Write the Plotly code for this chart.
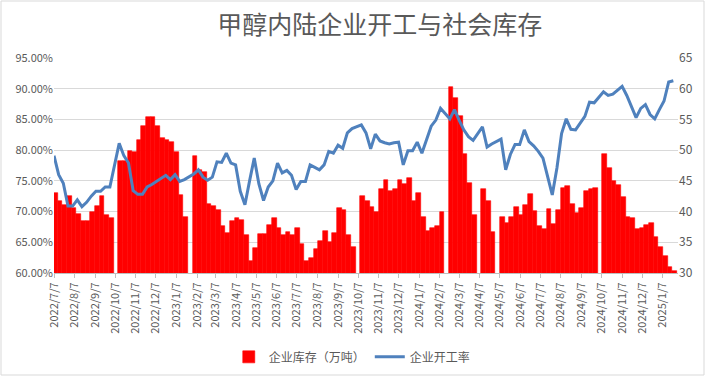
import pandas as pd
import plotly.graph_objects as go

# Weekly observations starting 2022-07-07 (None = week not reported)
start_date = "2022-07-07"
n_weeks = 134

inventory = [
    43.1, 41.8, 41.0, 42.5, 40.6, 39.6, 38.4, 38.4, 39.9, 40.9,
    42.6, 39.5, 39.0, None, 48.2, 48.2, 49.8, 49.7, 51.6, 53.9,
    55.4, 55.4, 54.0, 52.0, 51.6, 51.4, 49.7, 42.7, 39.1, None,
    49.1, 46.8, 46.5, 41.3, 40.9, 40.2, 37.7, 36.5, 38.5, 39.0,
    38.6, 36.2, 31.9, 34.1, 36.4, 36.3, 37.8, 38.9, 37.4, 36.2,
    36.7, 36.2, 37.4, 34.7, 32.0, 32.4, 33.9, 35.2, 36.9, 35.1,
    36.5, 40.6, 40.2, 36.2, 34.2, None, 42.5, 41.8, 40.8, 39.9,
    43.6, 45.1, 43.3, 43.6, 45.1, 44.5, 45.5, 41.8, 43.0, 39.1,
    36.9, 37.4, 37.7, 39.9, None, 60.3, 58.5, 55.5, 49.4, 44.7,
    39.5, None, 43.7, 41.8, 36.7, None, 39.1, 38.1, 39.1, 40.8,
    39.5, 41.1, 42.8, 40.1, 37.7, 37.1, 40.5, 38.0, 40.2, 43.9,
    44.1, 41.2, 39.8, 40.6, 43.3, 43.7, 43.9, None, 49.4, 47.1,
    44.9, 44.4, 42.3, 39.1, 38.9, 37.1, 37.4, 37.8, 38.2, 35.8,
    34.3, 32.7, 31.0, 30.3,
]

operating_rate = [
    79.1, 76.0, 74.6, 70.9, 70.9, 71.9, 70.8, 71.5, 72.5, 73.3,
    73.3, 74.0, 74.0, None, 81.1, 79.1, 77.9, 73.4, 72.8, 72.8,
    74.0, 74.4, 74.9, 75.3, 75.9, 75.2, 76.0, 74.9, 75.2, None,
    76.1, 76.8, 75.6, 75.1, 75.6, 78.1, 78.0, 79.5, 77.9, 77.6,
    73.3, 71.1, 75.0, 78.7, 74.5, 71.8, 74.0, 75.0, 77.9, 76.3,
    76.7, 75.9, 73.6, 74.9, 74.9, 77.6, 77.2, 76.8, 77.6, 79.8,
    79.5, 80.8, 80.3, 82.8, 83.5, None, 84.1, 82.8, 80.2, 82.6,
    81.5, 81.2, 81.0, 81.2, 81.3, 77.6, 79.9, 79.9, 81.3, 79.5,
    81.9, 83.9, 84.9, 86.8, None, 85.1, 86.6, 84.9, 83.3, 82.2,
    81.6, None, 83.8, 80.5, 81.0, None, 81.8, 76.8, 79.3, 80.9,
    80.9, 83.3, 81.4, 80.7, 79.8, 78.7, 75.7, 72.7, 77.1, 82.7,
    85.1, 83.4, 83.3, 84.5, 85.5, 87.8, 87.7, None, 89.5, 88.9,
    89.1, 89.8, 90.4, 88.9, 87.1, 85.3, 86.8, 87.4, 85.8, 85.1,
    86.6, 88.0, 91.1, 91.3,
]

dates = pd.date_range(start_date, periods=n_weeks, freq="7D")

DAY_MS = 86400000
FONT = "Noto Sans CJK SC, Noto Sans, sans-serif"
GREY = "#595959"

fig = go.Figure()
fig.add_trace(go.Bar(
    x=dates, y=inventory, name="企业库存（万吨）",
    marker=dict(color="#FF0000", line=dict(width=0.6, color="#FF0000")),
    width=7 * DAY_MS, offset=-1.5 * DAY_MS,
    yaxis="y",
))
fig.add_trace(go.Scatter(
    x=dates, y=operating_rate, name="企业开工率", mode="lines",
    line=dict(color="#4F81BD", width=3), connectgaps=True,
    yaxis="y2",
))

fig.update_layout(
    width=706, height=377,
    margin=dict(l=54, r=28, t=58, b=104, autoexpand=False),
    paper_bgcolor="white", plot_bgcolor="white",
    font=dict(family=FONT, color=GREY, size=11),
    title=dict(text="甲醇内陆企业开工与社会库存", x=0.538, xanchor="center",
               y=1 - 25 / 377, yanchor="middle",
               font=dict(family=FONT, size=25, color=GREY)),
    bargap=0,
    showlegend=True,
    legend=dict(orientation="h", x=0.478, xanchor="center", y=-0.39, yanchor="middle",
                font=dict(size=12, color=GREY), itemwidth=30, bgcolor="rgba(0,0,0,0)"),
    xaxis=dict(type="date", range=["2022-07-07", "2025-01-30"], automargin=False,
               tick0="2022-07-07", dtick="M1", tickformat="%Y/%-m/%-d",
               tickangle=-90, ticks="outside", ticklen=4, tickcolor="#bfbfbf",
               showline=True, linecolor="#bfbfbf", linewidth=1, showgrid=False,
               tickfont=dict(size=11, color=GREY)),
    yaxis=dict(side="right", range=[30, 65], dtick=5, tick0=30, automargin=False,
               showgrid=True, gridcolor="#d9d9d9", gridwidth=1, zeroline=False,
               tickfont=dict(size=12, color=GREY), ticks=""),
    yaxis2=dict(overlaying="y", side="left", range=[60, 95], dtick=5, tick0=60,
                automargin=False,
                tickformat=".2f", ticksuffix="%", showgrid=False, zeroline=False,
                tickfont=dict(size=11, color=GREY)),
    shapes=[dict(type="rect", xref="paper", yref="paper",
                 x0=(1 - 54) / 624, x1=(704 - 54) / 624,
                 y0=(273 - 375) / 215, y1=(273 - 1) / 215,
                 line=dict(color="#d9d9d9", width=1), layer="below")],
)

fig.write_html(
    "out.html",
    config={"displayModeBar": False},
    post_script="document.body.style.margin='0';document.body.style.overflow='hidden';",
)
